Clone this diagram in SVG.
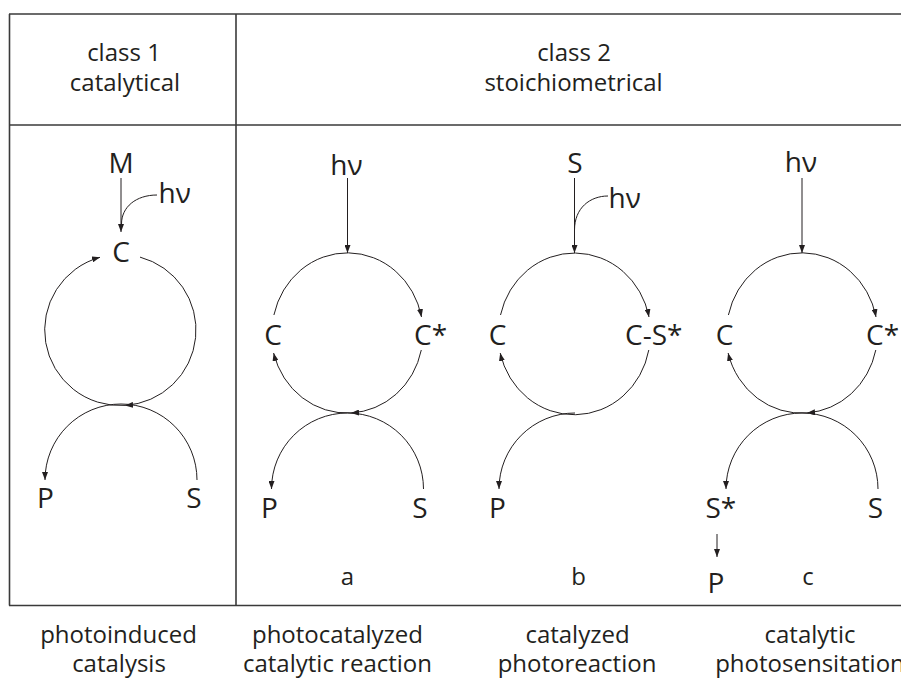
<svg xmlns="http://www.w3.org/2000/svg" width="901" height="679" viewBox="0 0 901 679">
  <style>
    text { font-family: "Open Sans", "Noto Sans", sans-serif; fill: #231f20; }
    .hdr { font-size: 24px; text-anchor: middle; }
    .cap { font-size: 24px; text-anchor: middle; }
    .sp { font-size: 28px; }
    .mid { text-anchor: middle; }
    .tag { font-size: 24px; text-anchor: middle; }
    .grid { stroke: #3a3a3a; stroke-width: 1.6; fill: none; }
    .ln { stroke: #231f20; stroke-width: 1; fill: none; }
    .arr { marker-end: url(#ah); }
  </style>
  <defs>
    <marker id="ah" markerUnits="userSpaceOnUse" markerWidth="8" markerHeight="6" refX="8" refY="3" orient="auto">
      <path d="M0,0 L8,3 L0,6 z" fill="#231f20"/>
    </marker>
  </defs>
  <rect width="901" height="679" fill="#ffffff"/>

  <!-- table frame -->
  <g id="table" class="grid">
    <line x1="9" y1="14" x2="901" y2="14"/>
    <line x1="9" y1="125" x2="901" y2="125"/>
    <line x1="9" y1="605.5" x2="901" y2="605.5"/>
    <line x1="9.5" y1="14" x2="9.5" y2="605.5"/>
    <line x1="236" y1="14" x2="236" y2="605.5"/>
  </g>

  <!-- column headings -->
  <g id="head-class1">
    <text class="hdr" x="124" y="61">class 1</text>
    <text class="hdr" x="125" y="91">catalytical</text>
  </g>
  <g id="head-class2">
    <text class="hdr" x="574" y="61">class 2</text>
    <text class="hdr" x="573.5" y="91">stoichiometrical</text>
  </g>

  <!-- class 1 species -->
  <g id="p1-M"><text class="sp mid" x="121" y="173">M</text></g>
  <g id="p1-hv"><text class="sp" x="158.5" y="203">hν</text></g>
  <g id="p1-C"><text class="sp mid" x="121" y="262">C</text></g>
  <g id="p1-P"><text class="sp mid" x="45.5" y="508">P</text></g>
  <g id="p1-S"><text class="sp mid" x="194" y="508">S</text></g>

  <!-- panel a species -->
  <g id="pa-hv"><text class="sp mid" x="346.5" y="175">hν</text></g>
  <g id="pa-C"><text class="sp mid" x="273" y="345">C</text></g>
  <g id="pa-Cx"><text class="sp" x="414" y="345">C*</text></g>
  <g id="pa-P"><text class="sp mid" x="269.5" y="518">P</text></g>
  <g id="pa-S"><text class="sp mid" x="420" y="518">S</text></g>
  <g id="pa-tag"><text class="tag" x="347.5" y="585">a</text></g>

  <!-- panel b species -->
  <g id="pb-S"><text class="sp mid" x="575" y="173">S</text></g>
  <g id="pb-hv"><text class="sp" x="608.5" y="208">hν</text></g>
  <g id="pb-C"><text class="sp mid" x="497.5" y="345">C</text></g>
  <g id="pb-CS"><text class="sp" x="625" y="345">C-S*</text></g>
  <g id="pb-P"><text class="sp mid" x="497.5" y="518">P</text></g>
  <g id="pb-tag"><text class="tag" x="578.5" y="585">b</text></g>

  <!-- panel c species -->
  <g id="pc-hv"><text class="sp mid" x="801" y="172">hν</text></g>
  <g id="pc-C"><text class="sp mid" x="724.5" y="345">C</text></g>
  <g id="pc-Cx"><text class="sp" x="866" y="345">C*</text></g>
  <g id="pc-Sx"><text class="sp" x="705.5" y="518">S*</text></g>
  <g id="pc-S"><text class="sp mid" x="875.5" y="518">S</text></g>
  <g id="pc-P"><text class="sp mid" x="716" y="593">P</text></g>
  <g id="pc-tag"><text class="tag" x="808" y="585">c</text></g>

  <!-- captions under the table -->
  <g id="cap-1">
    <text class="cap" x="118.5" y="643">photoinduced</text>
    <text class="cap" x="119" y="672">catalysis</text>
  </g>
  <g id="cap-a">
    <text class="cap" x="337.5" y="643">photocatalyzed</text>
    <text class="cap" x="337.5" y="672">catalytic reaction</text>
  </g>
  <g id="cap-b">
    <text class="cap" x="577.5" y="643">catalyzed</text>
    <text class="cap" x="577" y="672">photoreaction</text>
  </g>
  <g id="cap-c">
    <text class="cap" x="810" y="643">catalytic</text>
    <text class="cap" x="810" y="672">photosensitation</text>
  </g>

  <!-- connectors -->
  <g id="connectors" class="ln">
    <!-- class 1 -->
    <line class="arr" x1="121" y1="178" x2="121" y2="232"/>
    <path d="M157,195 C136,195 121.5,207 121.5,224"/>
    <path class="arr" d="M140,257.1 A75.5,75.5 0 0 1 125,405.4"/>
    <path class="arr" d="M125,405.4 A75.5,75.5 0 0 1 100,257.3"/>
    <path class="arr" d="M197,480 A76,76 0 0 0 45,480"/>

    <!-- panel a -->
    <line class="arr" x1="347.5" y1="178" x2="347.5" y2="253"/>
    <path class="arr" d="M273.9,315 A75.5,80 0 0 1 421.5,317"/>
    <path class="arr" d="M421.3,350 A75.5,80 0 0 1 351,412.9"/>
    <path class="arr" d="M351,412.9 A75.5,80 0 0 1 273.6,353"/>
    <path class="arr" d="M423.5,489 A76,76 0 0 0 271.5,489"/>

    <!-- panel b -->
    <line class="arr" x1="574.5" y1="178" x2="574.5" y2="253"/>
    <path d="M608,196 C590,196 574.5,208 574.5,230"/>
    <path class="arr" d="M500.5,315 A76,80 0 0 1 649,317"/>
    <path class="arr" d="M648.8,350 A76,80 0 0 1 500.2,353"/>
    <path class="arr" d="M575,413 A76,76 0 0 0 499,489"/>

    <!-- panel c -->
    <line class="arr" x1="802" y1="178" x2="802" y2="253"/>
    <path class="arr" d="M728.4,315 A75.5,80 0 0 1 876,317"/>
    <path class="arr" d="M875.8,350 A75.5,80 0 0 1 807,412.9"/>
    <path class="arr" d="M807,412.9 A75.5,80 0 0 1 728.1,353"/>
    <path class="arr" d="M878,489 A76,76 0 0 0 726,489"/>
    <line class="arr" x1="717" y1="534" x2="717" y2="557"/>
  </g>
</svg>
